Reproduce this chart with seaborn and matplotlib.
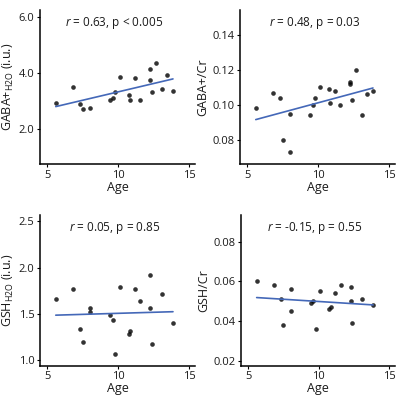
import numpy as np
import pandas as pd
import seaborn as sns
import matplotlib
matplotlib.use('Agg')
import matplotlib.pyplot as plt

# shared subject ages
age = [5.6, 6.8, 7.3, 7.5, 8.0, 8.0, 9.42, 9.62, 9.77, 10.1, 10.75, 10.85,
       11.15, 11.55, 12.25, 12.25, 12.35, 12.65, 13.05, 13.45, 13.85]

gaba_h2o = [2.91, 3.48, 2.88, 2.69, 2.75, np.nan, 3.03, 3.09, 3.31, 3.85, 3.19, 3.04,
            3.82, 3.04, 4.13, 3.73, 3.32, 4.36, 3.41, 3.92, 3.36]
gaba_cr = [0.098, 0.107, 0.104, 0.080, 0.095, 0.073, 0.094, 0.100, 0.104, 0.110, 0.109, 0.101,
           0.108, 0.100, 0.113, 0.112, 0.103, 0.120, 0.094, 0.106, 0.108]
gsh_h2o = [1.665, 1.77, 1.34, 1.20, 1.56, 1.52, 1.485, 1.44, 1.07, 1.79, 1.28, 1.32,
           1.77, 1.64, 1.92, 1.57, 1.18, np.nan, 1.72, np.nan, 1.40]
gsh_cr = [0.060, 0.058, 0.051, 0.038, 0.056, 0.045, 0.049, 0.050, 0.036, 0.055, 0.046, 0.047,
          0.054, 0.058, 0.057, 0.050, 0.039, np.nan, 0.051, np.nan, 0.048]

labels = [r'GABA+$_{\mathregular{H2O}}$ (i.u.)', 'GABA+/Cr',
          r'GSH$_{\mathregular{H2O}}$ (i.u.)', 'GSH/Cr']
stats = [r'$\it{r}$ = 0.63, p < 0.005', r'$\it{r}$ = 0.48, p = 0.03',
         r'$\it{r}$ = 0.05, p = 0.85', r'$\it{r}$ = -0.15, p = 0.55']
yticks = [[2.0, 4.0, 6.0], [0.08, 0.10, 0.12, 0.14],
          [1.0, 1.5, 2.0, 2.5], [0.02, 0.04, 0.06, 0.08]]
yfmt = ['{:.1f}', '{:.2f}', '{:.1f}', '{:.2f}']
ylims = [(0.74, 6.24), (0.0663, 0.1541), (0.942, 2.568), (0.0176, 0.0934)]

sns.set_style('ticks')
plt.rcParams['font.family'] = ['Open Sans', 'DejaVu Sans']
plt.rcParams['mathtext.fontset'] = 'custom'
plt.rcParams['mathtext.rm'] = 'Open Sans'
plt.rcParams['mathtext.it'] = 'Open Sans:italic'

fig = plt.figure(figsize=(4, 3.98), dpi=100)
boxes = [[0.10, 0.588, 0.3875, 0.387], [0.60, 0.588, 0.3875, 0.387],
         [0.10, 0.081, 0.3875, 0.379], [0.6025, 0.081, 0.385, 0.379]]
series = [gaba_h2o, gaba_cr, gsh_h2o, gsh_cr]

for i, vals in enumerate(series):
    ax = fig.add_axes(boxes[i])
    df = pd.DataFrame({'age': age, 'y': vals}).dropna()
    sns.regplot(x='age', y='y', data=df, ax=ax, ci=None, truncate=True,
                scatter_kws=dict(color='black', s=11, linewidths=0),
                line_kws=dict(color='#4468b8', lw=1.2))
    ax.set_xlim(4.49, 15.4)
    ax.set_ylim(ylims[i])
    ax.set_xticks([5, 10, 15])
    ax.set_yticks(yticks[i])
    ax.set_yticklabels([yfmt[i].format(t) for t in yticks[i]])
    ax.set_xlabel('Age', fontsize=9, labelpad=0, color='#1a1a1a')
    ax.set_ylabel(labels[i], fontsize=9, labelpad=2, color='#1a1a1a')
    ax.tick_params(labelsize=8, length=2.5, width=0.8, pad=1.5,
                   color='black', labelcolor='#1a1a1a')
    for s in ['left', 'bottom']:
        ax.spines[s].set_linewidth(1.1)
        ax.spines[s].set_color('black')
    sns.despine(ax=ax)
    ax.text(0.48, 0.915, stats[i], transform=ax.transAxes, ha='center',
            va='center', fontsize=8.5, color='#1a1a1a')

fig.savefig('out.png', dpi=100)
